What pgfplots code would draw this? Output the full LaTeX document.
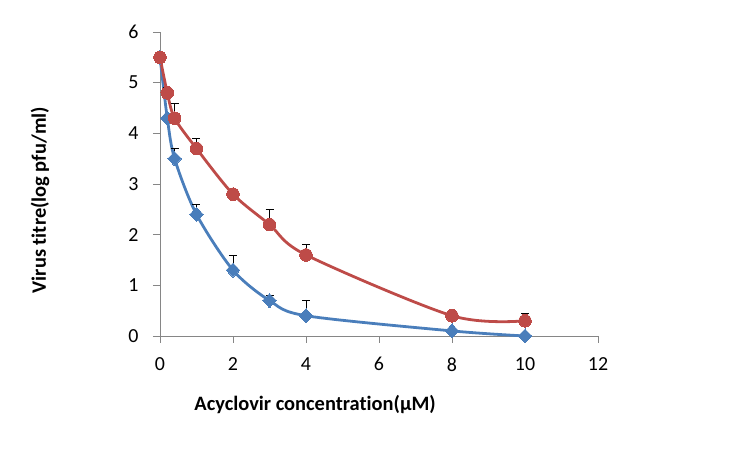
\documentclass[border=0pt]{standalone}
\usepackage{pgfplots}
\pgfplotsset{compat=1.18}
\usepackage{fontspec}
\setmainfont{Carlito}[RawFeature=-liga]
\definecolor{xblue}{HTML}{4A7EBB}
\definecolor{xred}{HTML}{BE4B48}
\definecolor{axgray}{HTML}{868686}
\begin{document}
\begin{tikzpicture}[x=1bp,y=1bp]
\path[use as bounding box] (-160,-115) rectangle (591,336);
\begin{axis}[
  at={(0,0)}, anchor=south west,
  scale only axis, width=438bp, height=304bp,
  xmin=0, xmax=12, ymin=0, ymax=6,
  xtick={0,2,...,12}, ytick={0,1,...,6},
  axis x line*=bottom, axis y line*=left,
  axis line style={axgray, line width=0.8pt, -},
  tick style={axgray, line width=0.8pt},
  tick align=outside, major tick length=7bp,
  ticklabel style={font=\fontsize{20}{22}\selectfont},
  xticklabel style={yshift=-11bp},
  yticklabel style={xshift=-11bp},
  /pgf/number format/assume math mode=true,
  xlabel={\textbf{Acyclovir concentration(μM)}},
  ylabel={\textbf{Virus titre(log pfu/ml)}},
  label style={font=\fontsize{20.5}{22}\selectfont},
  xlabel style={at={(rel axis cs:0.354,-0.224)}, anchor=center},
  ylabel style={at={(rel axis cs:-0.274,0.447)}, anchor=center, rotate=0},
  clip=false,
]
\addplot[xblue, line width=2.8pt, smooth, tension=0.5,
  mark=diamond*, mark size=7bp, mark options={solid, fill=xblue, line width=0pt, xscale=1.3},
  error bars/.cd, y dir=plus, y explicit,
  error bar style={black, line width=0.7pt},
  error mark options={black, line width=0.7pt, mark size=4bp, rotate=90}]
  table[x=x, y=y, y error=e] {
x y e
0 5.5 0.1
0.2 4.3 0.05
0.4 3.5 0.2
1 2.4 0.2
2 1.3 0.3
3 0.7 0.1
4 0.4 0.3
8 0.1 0.18
10 0 0.24
};
\addplot[xred, line width=2.8pt, smooth, tension=0.5,
  mark=*, mark size=6.3bp, mark options={solid, fill=xred, line width=0pt},
  error bars/.cd, y dir=plus, y explicit,
  error bar style={black, line width=0.7pt},
  error mark options={black, line width=0.7pt, mark size=4bp, rotate=90}]
  table[x=x, y=y, y error=e] {
x y e
0 5.5 0.1
0.2 4.8 0.1
0.4 4.3 0.3
1 3.7 0.2
2 2.8 0.1
3 2.2 0.3
4 1.6 0.2
8 0.4 0.07
10 0.3 0.15
};
\end{axis}
\end{tikzpicture}
\end{document}
